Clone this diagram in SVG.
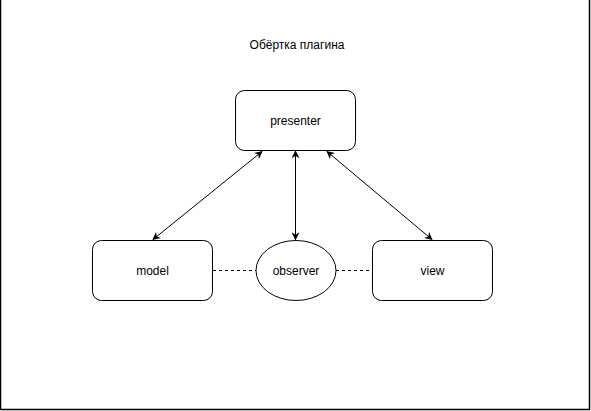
<svg xmlns="http://www.w3.org/2000/svg" width="591" height="411" viewBox="0 0 591 411">
<style>
.box{fill:#fff;stroke:#000;stroke-width:1}
.lbl{font-family:"Liberation Sans",Arial,sans-serif;font-size:12px;fill:#000;text-anchor:middle;dominant-baseline:central}
.edge{fill:none;stroke:#000;stroke-width:1}
.dash{fill:none;stroke:#000;stroke-width:1;stroke-dasharray:3 3}
</style>
<defs>
<marker id="ah" viewBox="0 0 10 10" refX="9" refY="5" markerWidth="8" markerHeight="8" orient="auto-start-reverse" markerUnits="userSpaceOnUse">
<path d="M0,0 L10,5 L0,10 L3,5 Z" fill="#000"/>
</marker>
</defs>
<rect x="0.5" y="-2" width="589" height="411.5" fill="#fff" stroke="#000" stroke-width="1.5"/>
<text class="lbl" x="297" y="45">Обёртка плагина</text>
<g id="connectors">
<line class="edge" x1="262" y1="151.5" x2="153" y2="239.5" marker-start="url(#ah)" marker-end="url(#ah)"/>
<line class="edge" x1="295.5" y1="151" x2="295.5" y2="239.5" stroke-width="1.6" marker-start="url(#ah)" marker-end="url(#ah)"/>
<line class="edge" x1="327" y1="151.5" x2="432" y2="239.5" marker-start="url(#ah)" marker-end="url(#ah)"/>
<line class="dash" x1="213" y1="270.5" x2="256" y2="270.5"/>
<line class="dash" x1="336" y1="270.5" x2="372" y2="270.5"/>
</g>
<g id="presenter">
<rect class="box" x="235.5" y="90.5" width="120" height="60" rx="9"/>
<text class="lbl" x="295.5" y="120.5">presenter</text>
</g>
<g id="model">
<rect class="box" x="92.5" y="240.5" width="120" height="60" rx="9"/>
<text class="lbl" x="152.5" y="270.5">model</text>
</g>
<g id="observer">
<ellipse class="box" cx="296" cy="270.5" rx="40" ry="30"/>
<text class="lbl" x="296" y="270.5">observer</text>
</g>
<g id="view">
<rect class="box" x="372.5" y="240.5" width="120" height="60" rx="9"/>
<text class="lbl" x="432.5" y="270.5">view</text>
</g>
</svg>
